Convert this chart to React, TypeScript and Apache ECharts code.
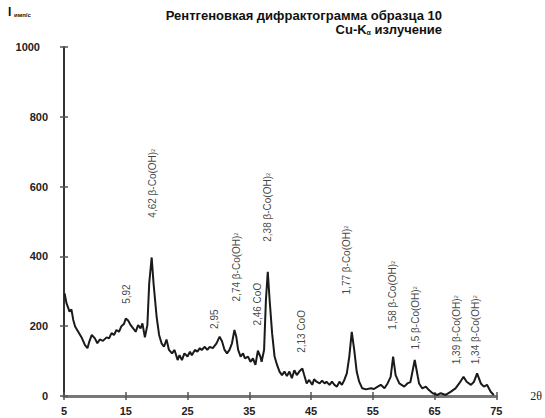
import React, { useEffect, useRef } from "react";
import * as echarts from "echarts";

const twoTheta = [
  5.1, 5.4, 5.9, 6.2, 6.5, 6.8, 7.3, 7.9, 8.4, 8.8, 9.1, 9.5, 10.0, 10.4, 10.8, 11.3, 11.9, 12.3, 12.7, 13.1,
  13.5, 13.9, 14.3, 14.7, 15.0, 15.4, 15.8, 16.2, 16.6, 17.0, 17.4, 17.7, 18.1, 18.5, 18.8, 19.2, 19.5, 20.0,
  20.4, 20.8, 21.2, 21.6, 22.0, 22.5, 22.9, 23.4, 23.7, 24.1, 24.5, 25.0, 25.4, 25.7, 26.2, 26.6, 27.0, 27.3,
  27.8, 28.2, 28.6, 29.1, 29.7, 30.2, 30.6, 31.0, 31.4, 31.8, 32.2, 32.6, 32.9, 33.2, 33.6, 34.0, 34.3, 34.8,
  35.2, 35.6, 36.0, 36.4, 36.8, 37.0, 37.4, 37.7, 38.0, 38.3, 38.7, 39.1, 39.5, 39.9, 40.3, 40.7, 41.1, 41.5,
  41.9, 42.3, 42.7, 43.1, 43.6, 43.9, 44.3, 44.7, 45.2, 45.5, 45.9, 46.4, 46.8, 47.2, 47.5, 48.0, 48.4, 48.8,
  49.2, 49.6, 50.0, 50.4, 50.8, 51.2, 51.6, 52.0, 52.4, 52.8, 53.3, 53.9, 54.7, 55.2, 55.8, 56.3, 56.9, 57.4,
  57.9, 58.3, 58.7, 59.3, 60.1, 60.6, 61.1, 61.8, 62.3, 62.5, 63.0, 63.6, 64.1, 64.7, 65.5, 66.0, 66.8, 67.6,
  68.4, 69.0, 69.7, 70.2, 70.9, 71.4, 71.9, 72.5, 73.0, 73.5, 74.1, 74.6,
];
const intensity = [
  294, 266, 242, 248, 218, 199, 184, 166, 146, 137, 156, 175, 165, 151, 162, 158, 168, 165, 180, 175,
  189, 184, 200, 206, 222, 216, 203, 194, 184, 203, 194, 208, 168, 203, 323, 397, 323, 227,
  175, 151, 141, 162, 132, 122, 132, 103, 117, 103, 122, 113, 127, 117, 132, 127, 137, 132,
  141, 132, 141, 137, 151, 170, 156, 132, 122, 132, 151, 189, 170, 132, 113, 122, 108, 113,
  98, 108, 89, 130, 113, 98, 132, 275, 356, 275, 180, 113, 89, 70, 60, 70, 57, 70,
  51, 74, 60, 70, 79, 60, 36, 46, 32, 48, 41, 36, 44, 36, 41, 32, 41, 32,
  27, 41, 32, 46, 65, 113, 184, 132, 70, 41, 22, 19, 22, 20, 27, 32, 22, 36,
  55, 113, 60, 36, 27, 36, 40, 103, 55, 36, 22, 27, 17, 8, 3, 8, 3, 12,
  22, 36, 55, 41, 32, 41, 65, 36, 27, 32, 12, 3,
];

const annoX = [15.2, 19.4, 29.3, 32.9, 36.35, 38.0, 43.45, 50.7, 58.2, 61.9, 68.5, 71.6];
const annoY = [292, 610, 220, 370, 263, 541, 185, 390, 289, 224, 190, 190];
const annoText = [
  "5,92",
  "4,62 β-Co(OH){s|2}",
  "2,95",
  "2,74 β-Co(OH){s|2}",
  "2,46 CoO",
  "2,38 β-Co(OH){s|2}",
  "2,13 CoO",
  "1,77 β-Co(OH){s|2}",
  "1,58 β-Co(OH){s|2}",
  "1,5 β-Co(OH){s|2}",
  "1,39 β-Co(OH){s|2}",
  "1,34 β-Co(OH){s|2}",
];

const xTicksMin = 5;
const xTicksMax = 75;
const xTickStep = 10;
const yMin = 0;
const yMax = 1000;
const yStep = 200;

const titleLine1 = "Рентгеновкая дифрактограмма образца 10";
const titleLine2 = "Cu-K{sub|α} излучение";

export default function App() {
  const ref = useRef<HTMLDivElement>(null);
  useEffect(() => {
    document.body.style.margin = "0";
    if (!ref.current) return;
    const chart = echarts.init(ref.current, undefined, { renderer: "svg" });
    const font = "'Liberation Sans', Arial, sans-serif";
    const lineData = twoTheta.map((x, i) => [x, intensity[i]]);
    const annoData = annoX.map((x, i) => [x, annoY[i]]);
    chart.setOption({
      animation: false,
      backgroundColor: "#ffffff",
      title: [
        {
          text: titleLine1,
          right: 103,
          top: 9,
          padding: 0,
          textStyle: { fontFamily: font, fontSize: 13, lineHeight: 13, fontWeight: "bold", color: "#111" },
        },
        {
          text: titleLine2,
          right: 103,
          top: 23,
          padding: 0,
          textStyle: {
            fontFamily: font,
            fontSize: 13,
            lineHeight: 13,
            fontWeight: "bold",
            color: "#111",
            rich: {
              sub: { fontFamily: font, fontSize: 7, lineHeight: 13, fontWeight: "bold", color: "#111", verticalAlign: "bottom" },
            },
          },
        },
      ],
      graphic: [
        {
          type: "text",
          left: 8,
          top: 6,
          style: { text: "I", fontFamily: font, fontSize: 12, fontWeight: "bold", fill: "#111" },
        },
        {
          type: "text",
          left: 14,
          top: 12,
          style: { text: "имп/с", fontFamily: font, fontSize: 6, fontWeight: "bold", fill: "#111" },
        },
      ],
      grid: { left: 64, right: 48, top: 47, bottom: 22, containLabel: false },
      xAxis: [
        {
          type: "value",
          min: xTicksMin,
          max: xTicksMax,
          interval: xTickStep,
          name: "2θ",
          nameLocation: "end",
          nameGap: 34,
          nameTextStyle: { fontFamily: "'Liberation Serif', serif", fontSize: 12, color: "#222", padding: [10, 0, 0, 0] },
          axisLine: { show: true, onZero: false, lineStyle: { color: "#777", width: 3 } },
          axisTick: { show: true, length: 4, lineStyle: { color: "#555", width: 1.5 } },
          axisLabel: { fontFamily: font, fontSize: 11, fontWeight: "bold", color: "#222", margin: 9 },
          splitLine: { show: false },
        },
        {
          type: "value",
          position: "bottom",
          min: xTicksMin,
          max: xTicksMax,
          interval: xTickStep,
          axisLine: { show: false },
          axisTick: { show: true, inside: true, length: 4, lineStyle: { color: "#555", width: 1.5 } },
          axisLabel: { show: false },
          splitLine: { show: false },
        },
      ],
      yAxis: [
        {
          type: "value",
          min: yMin,
          max: yMax,
          interval: yStep,
          axisLine: { show: true, lineStyle: { color: "#333", width: 2 } },
          axisTick: { show: true, length: 4, lineStyle: { color: "#555", width: 1.5 } },
          axisLabel: {
            fontFamily: font,
            fontSize: 11,
            fontWeight: "bold",
            color: "#222",
            margin: 16,
            formatter: (v: number) => (v === 1000 ? "{a|1000}" : String(v)),
            rich: { a: { fontFamily: font, fontSize: 11, fontWeight: "bold", color: "#222", padding: [0, 8, 0, 0] } },
          },
          splitLine: { show: false },
        },
        {
          type: "value",
          min: yMin,
          max: yMax,
          interval: yStep,
          position: "left",
          axisLine: { show: false },
          axisTick: { show: true, inside: true, length: 4, lineStyle: { color: "#555", width: 1.5 } },
          axisLabel: { show: false },
          splitLine: { show: false },
        },
      ],
      series: [
        {
          type: "line",
          data: lineData,
          showSymbol: false,
          symbol: "none",
          lineStyle: { color: "#1a1a1a", width: 2 },
          z: 3,
        },
        {
          type: "scatter",
          data: annoData,
          symbolSize: 1,
          itemStyle: { color: "rgba(0,0,0,0)" },
          silent: true,
          label: {
            show: true,
            position: "inside",
            rotate: 90,
            fontFamily: font,
            fontSize: 10,
            color: "#111",
            formatter: (p: any) => annoText[p.dataIndex],
            rich: { s: { fontFamily: font, fontSize: 6, color: "#111" } },
          },
          z: 4,
        },
      ],
    });
    return () => chart.dispose();
  }, []);
  return <div ref={ref} style={{ width: 545, height: 418 }} />;
}
